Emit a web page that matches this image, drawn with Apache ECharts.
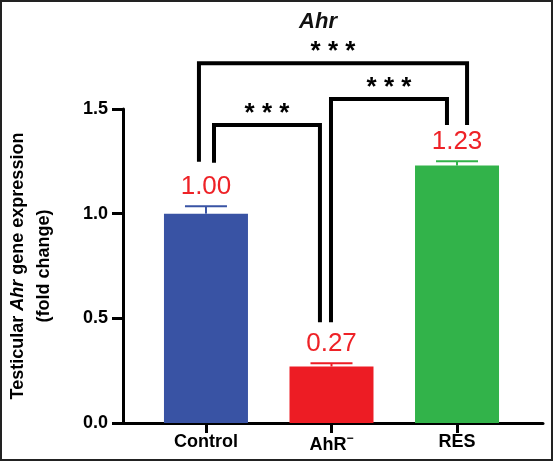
<!DOCTYPE html>
<html>
<head>
<meta charset="utf-8">
<script src="https://cdn.jsdelivr.net/npm/echarts@6/dist/echarts.min.js"></script>
<style>
  html, body { margin: 0; padding: 0; background: #fff; }
  #chart { width: 553px; height: 461px; }
</style>
</head>
<body>
<div id="chart"></div>
<script>
// data
const categories = ['Control', 'AhR', 'RES'];
const means = [1.00, 0.27, 1.23];
const sems = [0.035, 0.015, 0.02];
const valueLabels = ['1.00', '0.27', '1.23'];
const barColors = ['#3953a4', '#ed1c24', '#32b34a'];
// comparison brackets: [from, to, top, left foot, right foot]
const brackets = [
    [0.064, 0.908, 1.424, 1.243, 0.481],
    [0.996, 1.92, 1.548, 0.481, 1.424],
    [-0.056, 2.08, 1.719, 1.248, 1.424]
];
const sigMarks = ['* * *', '* * *', '* * *'];

const font = 'Liberation Sans, Arial, sans-serif';
const chart = echarts.init(document.getElementById('chart'));

const option = {
    animation: false,
    title: {
        text: 'Ahr',
        left: 313,
        textAlign: 'center',
        top: 6,
        textStyle: { fontFamily: font, fontSize: 22, fontWeight: 'bold', fontStyle: 'italic', color: '#111' }
    },
    graphic: [{
        type: 'rect',
        shape: { x: 1, y: 1, width: 551, height: 459 },
        style: { fill: 'none', stroke: '#222', lineWidth: 2 },
        silent: true
    }],
    grid: { left: 123, right: 10, top: 109, bottom: 38, outerBoundsMode: 'none' },
    xAxis: {
        type: 'value',
        min: -0.661,
        max: 2.685,
        splitLine: { show: false },
        axisLine: { onZero: false, lineStyle: { color: '#000', width: 3 } },
        axisTick: { show: true, length: 10, lineStyle: { color: '#000', width: 3 }, customValues: [0, 1, 2] },
        axisLabel: {
            customValues: [0, 1, 2],
            margin: 10,
            formatter: v => {
                const c = categories[Math.round(v)];
                return c === 'AhR' ? '{n|AhR}{s|−}' : '{n|' + c + '}';
            },
            rich: {
                n: { fontFamily: font, fontSize: 18, fontWeight: 'bold', color: '#000' },
                s: { fontFamily: font, fontSize: 12, fontWeight: 'bold', color: '#000', padding: [0, 0, 12, 0] }
            }
        }
    },
    yAxis: {
        type: 'value',
        min: 0,
        max: 1.5,
        interval: 0.5,
        splitLine: { show: false },
        axisLine: { show: true, onZero: false, lineStyle: { color: '#000', width: 3 } },
        axisTick: { show: true, length: 11, lineStyle: { color: '#000', width: 3 } },
        axisLabel: {
            margin: 15,
            formatter: v => v.toFixed(1),
            fontFamily: font, fontSize: 18, fontWeight: 'bold', color: '#000'
        },
        name: '{b|Testicular }{i|Ahr}{b| gene expression}\n{b|(fold change)}',
        nameLocation: 'middle',
        nameGap: 66,
        nameTextStyle: {
            lineHeight: 26,
            rich: {
                b: { fontFamily: font, fontSize: 18, fontWeight: 'bold', color: '#000', lineHeight: 26 },
                i: { fontFamily: font, fontSize: 18, fontWeight: 'bold', fontStyle: 'italic', color: '#000', lineHeight: 26 }
            }
        }
    },
    series: [
        {
            type: 'bar',
            barWidth: 84,
            data: means.map((m, i) => ({ value: [i, m], itemStyle: { color: barColors[i] } }))
        },
        {
            // error bars + value labels
            type: 'custom',
            z: 5,
            data: means.map((m, i) => [i, m, sems[i]]),
            renderItem: (params, api) => {
                const i = params.dataIndex;
                const base = api.coord([api.value(0), api.value(1)]);
                const top = api.coord([api.value(0), api.value(1) + api.value(2)]);
                const c = barColors[i];
                return {
                    type: 'group',
                    children: [
                        { type: 'line', shape: { x1: base[0], y1: base[1], x2: top[0], y2: top[1] }, style: { stroke: c, lineWidth: 2 } },
                        { type: 'line', shape: { x1: top[0] - 21, y1: top[1], x2: top[0] + 21, y2: top[1] }, style: { stroke: c, lineWidth: 2 } },
                        {
                            type: 'text',
                            x: top[0], y: top[1] - 7,
                            style: { text: valueLabels[i], fontFamily: font, fontSize: 26, fill: '#ee2227', align: 'center', verticalAlign: 'bottom' }
                        }
                    ]
                };
            }
        },
        {
            // significance brackets
            type: 'custom',
            z: 6,
            clip: false,
            data: brackets,
            renderItem: (params, api) => {
                const b = brackets[params.dataIndex];
                const p1 = api.coord([b[0], b[3]]);
                const p2 = api.coord([b[0], b[2]]);
                const p3 = api.coord([b[1], b[2]]);
                const p4 = api.coord([b[1], b[4]]);
                return {
                    type: 'group',
                    children: [
                        { type: 'polyline', shape: { points: [p1, p2, p3, p4] }, style: { stroke: '#000', lineWidth: 4, fill: 'none' } },
                        {
                            type: 'text',
                            x: (p2[0] + p3[0]) / 2, y: p2[1] + 2,
                            style: { text: sigMarks[params.dataIndex], fontFamily: font, fontSize: 26, fontWeight: 'bold', fill: '#000', align: 'center', verticalAlign: 'bottom' }
                        }
                    ]
                };
            }
        }
    ]
};

chart.setOption(option);
</script>
</body>
</html>
